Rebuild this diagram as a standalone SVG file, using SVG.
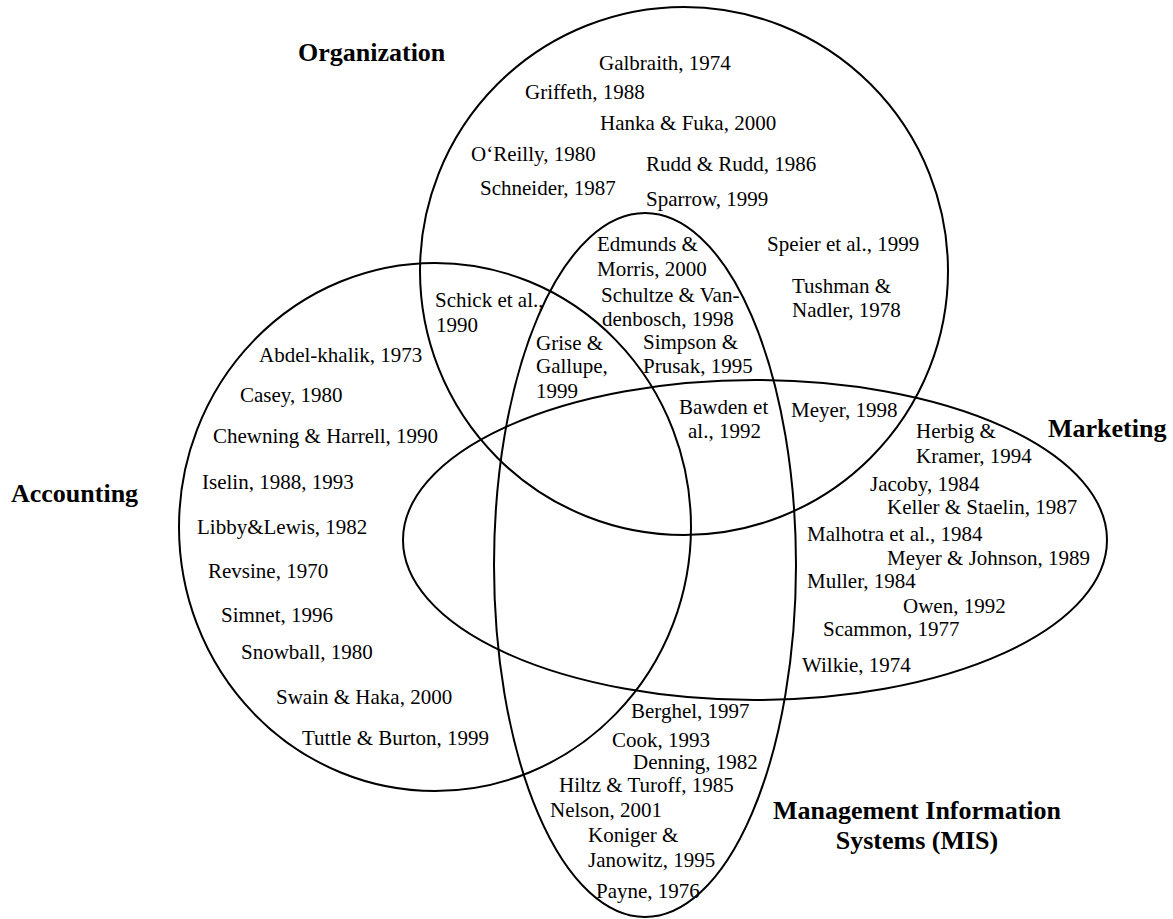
<svg xmlns="http://www.w3.org/2000/svg" width="1173" height="919" viewBox="0 0 1173 919">
<style>
.set{fill:none;stroke:#000;stroke-width:2}
text{font-family:"Liberation Serif","Times New Roman",Times,serif;fill:#000}
.t{font-size:21px}
.h{font-size:26px;font-weight:bold}
</style>
<rect width="1173" height="919" fill="#fff"/>
<g id="organization">
<circle class="set" cx="684" cy="271" r="264"/>
<text class="h" x="298" y="61">Organization</text>
<text class="t" x="599" y="70">Galbraith, 1974</text>
<text class="t" x="525" y="99">Griffeth, 1988</text>
<text class="t" x="600" y="130">Hanka &amp; Fuka, 2000</text>
<text class="t" x="471" y="161">O‘Reilly, 1980</text>
<text class="t" x="646" y="171">Rudd &amp; Rudd, 1986</text>
<text class="t" x="480" y="195">Schneider, 1987</text>
<text class="t" x="646" y="206">Sparrow, 1999</text>
<text class="t" x="767" y="251">Speier et al., 1999</text>
<text class="t" x="792" y="293">Tushman &amp;</text>
<text class="t" x="792" y="317">Nadler, 1978</text>
</g>
<g id="accounting">
<ellipse class="set" cx="435" cy="527" rx="256" ry="264"/>
<text class="h" x="11" y="502">Accounting</text>
<text class="t" x="259" y="362">Abdel-khalik, 1973</text>
<text class="t" x="240" y="402">Casey, 1980</text>
<text class="t" x="213" y="443">Chewning &amp; Harrell, 1990</text>
<text class="t" x="202" y="489">Iselin, 1988, 1993</text>
<text class="t" x="197" y="534">Libby&amp;Lewis, 1982</text>
<text class="t" x="208" y="578">Revsine, 1970</text>
<text class="t" x="221" y="622">Simnet, 1996</text>
<text class="t" x="241" y="659">Snowball, 1980</text>
<text class="t" x="276" y="704">Swain &amp; Haka, 2000</text>
<text class="t" x="302" y="745">Tuttle &amp; Burton, 1999</text>
</g>
<g id="mis">
<ellipse class="set" cx="645" cy="565" rx="151" ry="352"/>
<text class="h" x="917" y="819" text-anchor="middle">Management Information</text>
<text class="h" x="917" y="849" text-anchor="middle">Systems (MIS)</text>
<text class="t" x="631" y="718">Berghel, 1997</text>
<text class="t" x="612" y="747">Cook, 1993</text>
<text class="t" x="633" y="769">Denning, 1982</text>
<text class="t" x="559" y="792">Hiltz &amp; Turoff, 1985</text>
<text class="t" x="550" y="817">Nelson, 2001</text>
<text class="t" x="588" y="842">Koniger &amp;</text>
<text class="t" x="588" y="867">Janowitz, 1995</text>
<text class="t" x="596" y="898">Payne, 1976</text>
</g>
<g id="marketing">
<ellipse class="set" cx="755" cy="540" rx="352" ry="160"/>
<text class="h" x="1048" y="437">Marketing</text>
<text class="t" x="916" y="438">Herbig &amp;</text>
<text class="t" x="916" y="463">Kramer, 1994</text>
<text class="t" x="870" y="491">Jacoby, 1984</text>
<text class="t" x="887" y="514">Keller &amp; Staelin, 1987</text>
<text class="t" x="807" y="541">Malhotra et al., 1984</text>
<text class="t" x="887" y="565">Meyer &amp; Johnson, 1989</text>
<text class="t" x="807" y="588">Muller, 1984</text>
<text class="t" x="903" y="613">Owen, 1992</text>
<text class="t" x="823" y="636">Scammon, 1977</text>
<text class="t" x="802" y="672">Wilkie, 1974</text>
</g>
<g id="overlaps">
<text class="t" x="435" y="307">Schick et al.,</text>
<text class="t" x="436" y="332">1990</text>
<text class="t" x="597" y="251">Edmunds &amp;</text>
<text class="t" x="597" y="276">Morris, 2000</text>
<text class="t" x="601" y="302">Schultze &amp; Van-</text>
<text class="t" x="602" y="326">denbosch, 1998</text>
<text class="t" x="536" y="350">Grise &amp;</text>
<text class="t" x="536" y="373">Gallupe,</text>
<text class="t" x="536" y="398">1999</text>
<text class="t" x="643" y="349">Simpson &amp;</text>
<text class="t" x="643" y="373">Prusak, 1995</text>
<text class="t" x="679" y="414">Bawden et</text>
<text class="t" x="688" y="438">al., 1992</text>
<text class="t" x="791" y="417">Meyer, 1998</text>
</g>
</svg>
